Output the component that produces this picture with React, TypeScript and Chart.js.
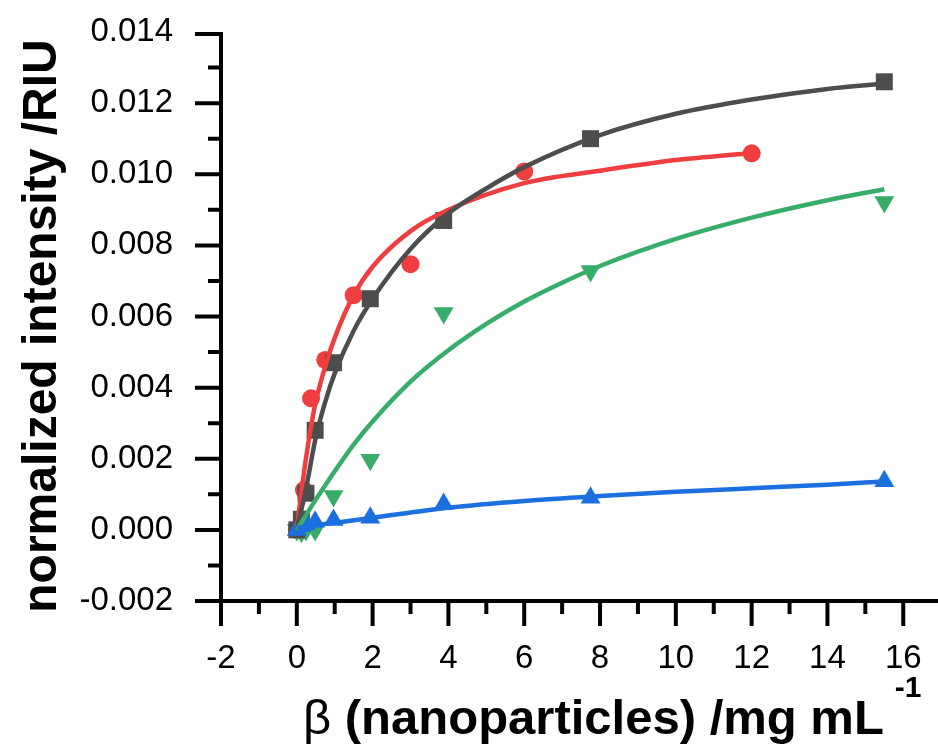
import React, { useEffect, useRef } from "react";
import { Chart, registerables } from "chart.js";

Chart.register(...registerables);

// ---- data ----
const xConc = [0, 0.121, 0.242, 0.484, 0.969, 1.938, 3.875, 7.75, 15.5];
const blackY = [0, 0.0003, 0.00103, 0.0028, 0.0047, 0.0065, 0.0087, 0.011, 0.0126];
const greenY = [0, -0.00005, 0, 0.0, 0.00095, 0.00197, 0.0061, 0.00728, 0.00922];
const blueY = [0, 0.0001, 0.00015, 0.00023, 0.00028, 0.00034, 0.00073, 0.0009, 0.00137];

const redX = [0, 0.1875, 0.375, 0.75, 1.5, 3, 6, 12];
const redY = [0, 0.00112, 0.0037, 0.00478, 0.0066, 0.00747, 0.01008, 0.01059];

// fitted curves
const blackFitX = [0, 0.25, 0.5, 0.75, 1, 1.5, 2, 3, 4, 5, 6, 8, 10, 12, 14, 15.5];
const blackFitY = [0, 0.0012, 0.0026, 0.0036, 0.0044, 0.0056, 0.0065, 0.0079, 0.0089, 0.0096, 0.0102, 0.0111, 0.0117, 0.0121, 0.0124, 0.01255];
const redFitX = [0, 0.1, 0.2, 0.375, 0.5, 0.75, 1, 1.5, 2, 3, 4, 6, 8, 10, 12];
const redFitY = [0, 0.0009, 0.0017, 0.0029, 0.0036, 0.0046, 0.0054, 0.0066, 0.0074, 0.0084, 0.009, 0.00975, 0.0101, 0.0104, 0.0106];
const greenFitX = [0, 0.5, 1, 1.5, 2, 3, 4, 5, 6, 7, 8, 10, 12, 14, 15.5];
const greenFitY = [0, 0.00085, 0.00165, 0.0024, 0.00305, 0.00417, 0.00505, 0.00579, 0.00642, 0.00695, 0.00742, 0.00818, 0.00878, 0.00927, 0.00958];
const blueFitX = [0, 0.5, 1, 2, 4, 6, 8, 10, 12, 14, 15.5];
const blueFitY = [0.00005, 0.00013, 0.0002, 0.00034, 0.00062, 0.00081, 0.00095, 0.00107, 0.00117, 0.00127, 0.00136];

const xTicks = [-2, 0, 2, 4, 6, 8, 10, 12, 14, 16];
const xMinorTicks = [-1, 1, 3, 5, 7, 9, 11, 13, 15];
const yTicks = [-0.002, 0, 0.002, 0.004, 0.006, 0.008, 0.01, 0.012, 0.014];
const yMinorTicks = [-0.001, 0.001, 0.003, 0.005, 0.007, 0.009, 0.011, 0.013];

const BLACK = "#4d4d4d";
const RED = "#ef3d40";
const GREEN = "#38ad6a";
const BLUE = "#1c6fde";

const FONT = "'Liberation Sans', Arial, Helvetica, sans-serif";

const pts = (xs: number[], ys: number[]) => xs.map((x, i) => ({ x, y: ys[i] }));

const axesPlugin = {
  id: "customAxes",
  afterDraw(chart: any) {
    const { ctx, chartArea, scales } = chart;
    const xs = scales.x;
    const ys = scales.y;
    const left = chartArea.left;
    const bottom = chartArea.bottom;
    ctx.save();
    ctx.strokeStyle = "#000";
    ctx.lineWidth = 4;
    ctx.lineCap = "butt";
    // axis lines
    ctx.beginPath();
    ctx.moveTo(left, chartArea.top);
    ctx.lineTo(left, bottom + 2);
    ctx.moveTo(left - 2, bottom);
    ctx.lineTo(chart.width, bottom);
    ctx.stroke();
    // y ticks
    ctx.beginPath();
    yTicks.forEach((v) => {
      const p = ys.getPixelForValue(v);
      const yy = v === yTicks[yTicks.length - 1] ? p + 2 : p;
      ctx.moveTo(left - 26, yy);
      ctx.lineTo(left, yy);
    });
    yMinorTicks.forEach((v) => {
      const p = ys.getPixelForValue(v);
      ctx.moveTo(left - 13, p);
      ctx.lineTo(left, p);
    });
    // x ticks
    xTicks.forEach((v) => {
      const p = xs.getPixelForValue(v);
      ctx.moveTo(p, bottom);
      ctx.lineTo(p, bottom + 25);
    });
    xMinorTicks.forEach((v) => {
      const p = xs.getPixelForValue(v);
      ctx.moveTo(p, bottom);
      ctx.lineTo(p, bottom + 13);
    });
    ctx.stroke();

    // titles
    ctx.fillStyle = "#000";
    ctx.font = `bold 48px ${FONT}`;
    ctx.textBaseline = "alphabetic";
    ctx.save();
    ctx.translate(56, 326);
    ctx.rotate(-Math.PI / 2);
    ctx.textAlign = "center";
    ctx.fillText("normalized intensity /RIU", 0, 0);
    ctx.restore();

    ctx.textAlign = "left";
    let x = 303;
    const base = 734;
    ctx.font = `49px ${FONT}`;
    ctx.fillText("β", x, base);
    x += ctx.measureText("β").width;
    ctx.font = `bold 49px ${FONT}`;
    const main = " (nanoparticles) /mg mL";
    ctx.fillText(main, x, base);
    x += ctx.measureText(main).width;
    ctx.font = `bold 30px ${FONT}`;
    ctx.fillText("-1", x + 11, base - 37);
    ctx.restore();
  },
};

export default function App() {
  const ref = useRef<HTMLCanvasElement | null>(null);
  useEffect(() => {
    if (!ref.current) return;
    const lineDs = (label: string, xs: number[], ys: number[], color: string) => ({
      type: "line" as const,
      label,
      data: pts(xs, ys),
      borderColor: color,
      backgroundColor: color,
      borderWidth: 4.5,
      pointRadius: 0,
      cubicInterpolationMode: "monotone" as const,
      fill: false,
    });
    const scatterDs = (label: string, xs: number[], ys: number[], color: string, style: string, radius: number, rotation = 0) => ({
      type: "scatter" as const,
      label,
      data: pts(xs, ys),
      borderColor: color,
      backgroundColor: color,
      borderWidth: 0,
      pointStyle: style,
      pointRadius: radius,
      pointRotation: rotation,
      showLine: false,
    });
    const chart = new Chart(ref.current, {
      type: "scatter",
      data: {
        datasets: [
          lineDs("blue fit", blueFitX, blueFitY, BLUE),
          lineDs("green fit", greenFitX, greenFitY, GREEN),
          lineDs("black fit", blackFitX, blackFitY, BLACK),
          lineDs("red fit", redFitX, redFitY, RED),
          scatterDs("blue", xConc, blueY, BLUE, "triangle", 11.5),
          scatterDs("black", xConc, blackY, BLACK, "rect", 12),
          scatterDs("green", xConc, greenY, GREEN, "triangle", 11.5, 180),
          scatterDs("red", redX, redY, RED, "circle", 9),
        ] as any,
      },
      options: {
        responsive: false,
        devicePixelRatio: 1,
        animation: false,
        layout: { padding: { top: 32, right: 0, left: 0, bottom: 0 } },
        plugins: { legend: { display: false }, tooltip: { enabled: false }, title: { display: false } },
        scales: {
          x: {
            type: "linear",
            min: -2,
            max: 16.6,
            grid: { display: false, drawTicks: true, tickLength: 38 },
            border: { display: false },
            afterBuildTicks: (s: any) => {
              s.ticks = xTicks.map((v) => ({ value: v }));
            },
            afterFit: (s: any) => {
              s.height = 148;
              s.paddingLeft = 0;
              s.paddingRight = 0;
            },
            ticks: {
              autoSkip: false,
              maxRotation: 0,
              padding: 0,
              color: "#000",
              font: { family: FONT, size: 33 },
              callback: (v: any) => String(v),
            },
          },
          y: {
            type: "linear",
            min: -0.002,
            max: 0.014,
            grid: { display: false, drawTicks: true, tickLength: 48 },
            border: { display: false },
            afterBuildTicks: (s: any) => {
              s.ticks = yTicks.map((v) => ({ value: v }));
            },
            afterFit: (s: any) => {
              s.width = 221;
              s.paddingTop = 0;
              s.paddingBottom = 0;
            },
            ticks: {
              autoSkip: false,
              padding: 0,
              color: "#000",
              font: { family: FONT, size: 33 },
              callback: (v: any) => Number(v).toFixed(3),
            },
          },
        },
      } as any,
      plugins: [axesPlugin],
    });
    return () => chart.destroy();
  }, []);
  return (
    <canvas
      ref={ref}
      width={938}
      height={749}
      style={{ position: "absolute", left: 0, top: 0, width: 938, height: 749 }}
    />
  );
}
